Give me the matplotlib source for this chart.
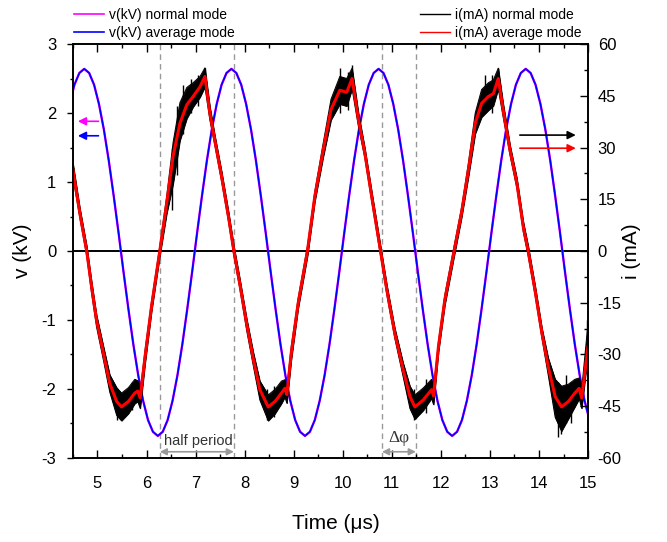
import matplotlib
matplotlib.use("Agg")
import matplotlib.pyplot as plt
import numpy as np
from matplotlib.ticker import MultipleLocator
from matplotlib.lines import Line2D

plt.rcParams['font.family'] = ['Liberation Sans', 'DejaVu Sans']
plt.rcParams['axes.unicode_minus'] = False

# voltage (kV), one sample every 0.1 us starting at 4.43 us
v_t0 = 4.43
v_dt = 0.1
v_average = [2.13, 2.41, 2.58,
             2.64, 2.58, 2.41, 2.13, 1.76, 1.31, 0.80, 0.26, -0.30, -0.84,
             -1.35, -1.80, -2.17, -2.45, -2.62, -2.68, -2.62, -2.45, -2.17, -1.80,
             -1.35, -0.84, -0.30, 0.26, 0.80, 1.31, 1.76, 2.13, 2.41, 2.58,
             2.64, 2.58, 2.41, 2.13, 1.76, 1.31, 0.80, 0.26, -0.30, -0.84,
             -1.35, -1.80, -2.17, -2.45, -2.62, -2.68, -2.62, -2.45, -2.17, -1.80,
             -1.35, -0.84, -0.30, 0.26, 0.80, 1.31, 1.76, 2.13, 2.41, 2.58,
             2.64, 2.58, 2.41, 2.13, 1.76, 1.31, 0.80, 0.26, -0.30, -0.84,
             -1.35, -1.80, -2.17, -2.45, -2.62, -2.68, -2.62, -2.45, -2.17, -1.80,
             -1.35, -0.84, -0.30, 0.26, 0.80, 1.31, 1.76, 2.13, 2.41, 2.58,
             2.64, 2.58, 2.41, 2.13, 1.76, 1.31, 0.80, 0.26, -0.30, -0.84,
             -1.35, -1.80, -2.17, -2.45]
v_normal = list(v_average)  # both modes overlap within the line width

# current (mA), average mode
t_current = [4.50, 4.64, 4.78, 4.88, 4.98, 5.12, 5.25, 5.39, 5.49, 5.63, 5.76, 5.82, 5.87, 5.97, 6.10, 6.27,
             6.41, 6.54, 6.68, 6.82, 6.95, 7.09, 7.19, 7.29, 7.39, 7.53, 7.67, 7.78,
             7.90, 8.04, 8.18, 8.31, 8.48, 8.62, 8.75, 8.82, 8.86, 8.95, 9.09, 9.28,
             9.43, 9.60, 9.76, 9.94, 10.08, 10.19, 10.32, 10.45, 10.59, 10.77,
             10.90, 11.06, 11.23, 11.37, 11.47, 11.64, 11.81, 11.85, 11.95, 12.08, 12.27,
             12.42, 12.56, 12.70, 12.83, 12.97, 13.07, 13.17, 13.27, 13.41, 13.55, 13.68, 13.78,
             13.92, 14.06, 14.19, 14.33, 14.46, 14.60, 14.73, 14.82, 14.87, 15.00]
i_average = [23.4, 11.0, 0.0, -10.4, -20.0, -29.6, -38.4, -43.6, -45.2, -43.6, -41.2, -40.6, -42.6, -30.6, -16.2, 0.0,
             13.8, 27.4, 37.0, 42.4, 44.8, 47.6, 50.6, 40.0, 32.2, 21.6, 10.0, 0.0,
             -9.4, -21.0, -31.6, -40.2, -45.2, -43.6, -41.2, -39.8, -41.6, -29.6, -15.2, 0.0,
             15.8, 29.2, 41.0, 46.6, 46.0, 50.0, 38.0, 28.4, 15.8, 0.0,
             -11.4, -23.8, -34.4, -42.2, -45.2, -43.2, -40.2, -42.0, -27.8, -14.2, 0.0,
             11.0, 23.4, 37.0, 42.8, 44.8, 45.6, 50.0, 40.8, 29.2, 19.6, 7.0, 0.0,
             -11.4, -23.8, -33.6, -42.2, -45.2, -43.6, -41.2, -39.8, -42.6, -27.8]
# normal mode: spread of the noisy trace above / below the average (mA)
noise_up = [2, 1.5, 1.5, 1.5, 1.5, 2, 2.5, 4, 4, 4, 4, 3, 2, 2, 1.5, 1.5,
            2, 4, 6, 5, 4, 3, 2.5, 2, 1.5, 1.5, 1.5, 1.5,
            1.5, 1.5, 2, 2.5, 3.5, 3.5, 3.5, 2.5, 2, 2, 1.5, 1.5,
            1.5, 2, 3, 4, 4, 3, 2, 1.5, 1.5, 1.5,
            1.5, 1.5, 2, 3, 3.5, 3.5, 3, 2, 1.5, 1.5, 1.5,
            1.5, 2, 3, 4, 4, 4, 3, 2, 1.5, 1.5, 1.5, 1.5,
            1.5, 1.5, 2.5, 5, 6, 5, 4, 3, 2.5, 7]
noise_down = [2, 1.5, 1.5, 2, 2, 2, 2.5, 4, 4, 3.5, 3, 3, 3, 2, 1.5, 1.5,
              3, 8, 5, 4, 3, 3, 3, 2, 1.5, 1.5, 1.5, 1.5,
              1.5, 2, 2, 3, 4, 3.5, 3, 2.5, 2.5, 2, 1.5, 1.5,
              1.5, 2, 3, 4, 4, 3, 2, 1.5, 1.5, 1.5,
              1.5, 1.5, 2, 3.5, 3.5, 3, 2.5, 2.5, 1.5, 1.5, 1.5,
              1.5, 2, 3, 4, 4, 3.5, 3, 2, 1.5, 1.5, 1.5, 1.5,
              1.5, 1.5, 2.5, 6, 7, 5, 4, 3, 3, 2]
# isolated noise spikes of the normal-mode trace (mA)
spike_t = [5.40, 5.55, 5.70, 6.52, 6.62, 6.75, 6.90, 7.05, 7.19, 8.45, 8.60,
           9.95, 10.10, 10.19, 11.45, 11.70, 12.90, 13.05, 13.17,
           14.38, 14.45, 14.55, 14.65, 14.98]
spike_lo = [-49, -48, -46, 12, 22, 34, 40, 42, 47, -49, -48,
            40, 41, 46, -49, -47, 40, 40, 46,
            -54, -53, -50, -50, -32]
spike_hi = [-40, -41, -38, 30, 42, 48, 50, 51, 53, -40, -39,
            53, 52, 54, -40, -37, 51, 51, 53,
            -38, -40, -36, -38, -20]

dashed_t = [6.27, 7.78, 10.80, 11.49]

fig = plt.figure(figsize=(6.67, 5.42), dpi=100)
ax = fig.add_axes([0.1094, 0.155, 0.7722, 0.7638])
ax2 = ax.twinx()

v_time = v_t0 + v_dt * np.arange(len(v_average))
t_i = np.array(t_current)
i_avg = np.array(i_average)
i_hi = i_avg + np.array(noise_up)
i_lo = i_avg - np.array(noise_down)

ax.axhline(0, color='black', lw=1.4, zorder=1)
for x in dashed_t:
    ax.axvline(x, color='#999999', lw=1.0, ls=(0, (4, 3)), zorder=1)

ax.plot(v_time, v_normal, color='#ff00ff', lw=1.7, zorder=2)
ax.plot(v_time, v_average, color='#0000ff', lw=1.2, zorder=3)

ax2.fill_between(t_i, i_lo, i_hi, color='black', lw=0.6)
ax2.plot(t_i, i_hi, color='black', lw=0.7)
ax2.plot(t_i, i_lo, color='black', lw=0.7)
ax2.vlines(spike_t, spike_lo, spike_hi, color='black', lw=1.0)
ax2.plot(t_i, i_avg, color='#ff0000', lw=2.2)

# direction arrows pointing to each axis
arr = dict(arrowstyle='-|>', lw=1.2, mutation_scale=12, shrinkA=0, shrinkB=0)
ax.annotate('', xy=(4.60, 1.88), xytext=(5.02, 1.88), arrowprops=dict(arr, color='#ff00ff'))
ax.annotate('', xy=(4.60, 1.67), xytext=(5.02, 1.67), arrowprops=dict(arr, color='#0000ff'))
ax2.annotate('', xy=(14.75, 33.6), xytext=(13.61, 33.6), arrowprops=dict(arr, color='black'))
ax2.annotate('', xy=(14.75, 29.8), xytext=(13.61, 29.8), arrowprops=dict(arr, color='#ff0000'))

darr = dict(arrowstyle='<|-|>', lw=1.2, mutation_scale=10, color='#999999', shrinkA=0, shrinkB=0)
ax.annotate('', xy=(dashed_t[0], -2.91), xytext=(dashed_t[1], -2.91), arrowprops=darr)
ax.text(7.05, -2.75, 'half period', ha='center', va='center', fontsize=10.5, color='#333333')
ax.annotate('', xy=(dashed_t[2], -2.91), xytext=(dashed_t[3], -2.91), arrowprops=darr)
ax.text(11.14, -2.71, 'Δφ', ha='center', va='center', fontsize=12.5, color='#333333',
        family=['Liberation Serif', 'DejaVu Serif'])

ax.set_xlim(4.5, 15)
ax.set_ylim(-3, 3)
ax2.set_ylim(-60, 60)
ax.xaxis.set_major_locator(MultipleLocator(1))
ax.xaxis.set_minor_locator(MultipleLocator(0.5))
ax.yaxis.set_major_locator(MultipleLocator(1))
ax.yaxis.set_minor_locator(MultipleLocator(0.5))
ax2.yaxis.set_major_locator(MultipleLocator(15))
ax2.yaxis.set_minor_locator(MultipleLocator(7.5))

ax.tick_params(axis='x', which='both', direction='in', top=True, labelsize=12, pad=13)
ax.tick_params(axis='x', which='major', length=5.5, width=1)
ax.tick_params(axis='x', which='minor', length=3, width=1)
ax.tick_params(axis='y', which='both', direction='out', labelsize=12, pad=8)
ax.tick_params(axis='y', which='major', length=4, width=1)
ax.tick_params(axis='y', which='minor', length=2.5, width=1)
ax2.tick_params(axis='y', which='both', direction='in', labelsize=12, pad=7)
ax2.tick_params(axis='y', which='major', length=5.5, width=1)
ax2.tick_params(axis='y', which='minor', length=3, width=1)
for a in (ax, ax2):
    for s in a.spines.values():
        s.set_linewidth(1.2)

ax.set_xlabel('Time (μs)', fontsize=15)
ax.set_ylabel('v (kV)', fontsize=15)
ax2.set_ylabel('i (mA)', fontsize=15)
ax.xaxis.set_label_coords(0.51, -0.135)
ax.yaxis.set_label_coords(-0.08, 0.5)
ax2.yaxis.set_label_coords(1.066, 0.5)

left_handles = [Line2D([], [], color='#ff00ff', lw=1.2), Line2D([], [], color='#0000ff', lw=1.2)]
right_handles = [Line2D([], [], color='black', lw=1.0), Line2D([], [], color='#ff0000', lw=1.0)]
leg_kw = dict(loc='upper left', frameon=False, fontsize=10, borderpad=0, borderaxespad=0,
              handlelength=2.15, handletextpad=0.36, labelspacing=0.25)
fig.legend(left_handles, ['v(kV) normal mode', 'v(kV) average mode'],
           bbox_to_anchor=(0.111, 0.985), **leg_kw)
fig.legend(right_handles, ['i(mA) normal mode', 'i(mA) average mode'],
           bbox_to_anchor=(0.63, 0.985), **leg_kw)

fig.savefig('out.png', dpi=100)
